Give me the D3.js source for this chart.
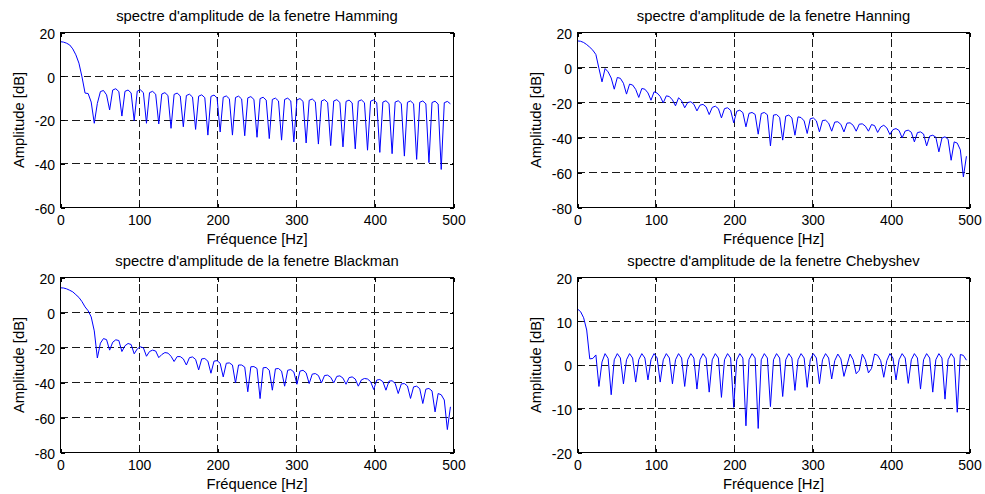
<!DOCTYPE html>
<html><head><meta charset="utf-8">
<script src="https://cdn.jsdelivr.net/npm/d3@7"></script>
<style>
html,body{margin:0;padding:0;background:#fff;}
svg{display:block;}
</style></head><body>
<svg id="chart" width="985" height="494"></svg>
<script>
// ---- data (amplitude in dB, FFT bins spaced 1000/256 Hz, starting at 0 Hz) ----
const binStepHz = 1000 / 256;

const hamming = [15.8, 15.6, 15.1, 14.3, 12.5, 9.8, 6.0, -0.3, -7.7, -7.9,
 -11.8, -21.5, -12.4, -7.0, -6.5, -8.5, -15.4, -6.3, -5.7, -7.0,
 -18.2, -6.9, -6.3, -7.6, -20.3, -6.8, -6.2, -7.5, -21.5, -7.5,
 -6.9, -8.2, -21.8, -8.1, -7.5, -8.8, -23.8, -8.3, -7.7, -9.0,
 -23.1, -8.8, -8.2, -9.5, -24.3, -9.1, -8.5, -9.8, -26.9, -9.2,
 -8.6, -9.9, -25.5, -9.6, -9.0, -10.3, -26.9, -9.7, -9.1, -10.4,
 -27.2, -9.9, -9.3, -10.6, -27.9, -10.2, -9.6, -10.9, -28.5, -10.6,
 -10.0, -11.3, -29.2, -10.6, -10.0, -11.3, -30.0, -10.8, -10.2, -11.5,
 -30.5, -11.0, -10.4, -11.7, -31.0, -11.3, -10.7, -12.0, -31.7, -11.3,
 -10.7, -12.0, -32.3, -11.5, -10.9, -12.2, -33.2, -11.4, -10.8, -12.1,
 -33.8, -11.4, -10.8, -12.1, -34.8, -11.8, -11.2, -12.5, -35.4, -11.8,
 -11.2, -12.5, -36.5, -11.9, -11.3, -12.6, -38.0, -11.9, -11.3, -12.6,
 -39.5, -12.0, -11.4, -12.7, -42.6, -12.1, -11.5, -12.6];

const hanning = [15.2, 15.0, 14.3, 13.1, 11.6, 9.9, 7.4, -0.5, -8.2, -0.6,
 -2.5, -6.0, -12.4, -5.7, -6.2, -9.0, -15.2, -9.5, -10.0, -12.5,
 -17.1, -12.0, -12.4, -14.5, -18.7, -13.9, -14.6, -16.5, -20.2, -16.2,
 -16.6, -18.5, -21.9, -17.3, -19.0, -23.0, -20.0, -19.6, -21.0, -24.8,
 -21.5, -21.1, -22.5, -26.9, -22.8, -22.1, -23.5, -28.8, -23.5, -23.0,
 -24.5, -31.6, -25.0, -24.4, -25.8, -33.9, -26.2, -25.7, -26.8, -38.1,
 -26.3, -25.7, -27.0, -44.8, -27.2, -26.9, -28.5, -41.5, -27.8, -27.2,
 -28.8, -38.7, -28.2, -28.6, -30.5, -37.7, -29.3, -28.8, -30.5, -36.8,
 -30.3, -30.1, -31.8, -36.4, -31.2, -31.0, -32.5, -36.8, -31.8, -31.6,
 -33.0, -36.4, -32.4, -32.2, -33.5, -36.4, -32.6, -33.2, -37.1, -34.0,
 -33.0, -34.5, -38.3, -35.5, -34.9, -36.0, -40.2, -36.3, -35.8, -37.0,
 -42.5, -37.2, -36.8, -38.0, -44.8, -39.2, -38.7, -39.8, -48.2, -40.3,
 -39.6, -41.0, -53.0, -42.5, -43.2, -47.0, -62.5, -50.7];

const blackman = [14.1, 14.0, 13.5, 12.7, 11.8, 10.2, 8.6, 6.2, 3.2, 1.0,
 -2.5, -10.5, -26.0, -17.5, -14.9, -15.5, -21.5, -17.0, -15.6, -16.0,
 -22.3, -19.0, -17.7, -18.3, -23.6, -20.8, -19.6, -20.2, -25.0, -22.3,
 -21.5, -22.0, -25.8, -24.0, -22.9, -23.2, -25.0, -28.0, -25.2, -25.2,
 -26.5, -30.0, -25.8, -25.4, -26.8, -32.8, -26.5, -26.3, -27.8, -34.7,
 -27.8, -27.5, -29.0, -36.8, -29.0, -28.8, -30.0, -40.3, -30.0, -30.0,
 -31.2, -45.3, -31.0, -30.9, -32.0, -49.2, -31.6, -31.4, -33.0, -44.4,
 -32.2, -32.0, -33.5, -42.1, -33.0, -32.6, -34.0, -41.0, -33.5, -33.0,
 -34.5, -40.6, -35.2, -34.9, -36.0, -40.2, -36.0, -35.8, -37.0, -40.2,
 -36.5, -36.2, -37.5, -41.0, -37.2, -36.8, -38.0, -42.1, -38.5, -37.7,
 -38.0, -39.5, -44.0, -38.6, -38.3, -39.5, -44.4, -39.2, -39.0, -40.5,
 -46.3, -40.8, -40.6, -42.0, -49.1, -42.5, -42.1, -43.5, -52.0, -43.8,
 -43.4, -44.8, -56.8, -46.3, -47.0, -50.0, -66.9, -53.9];

const chebyshev = [12.8, 12.2, 10.8, 8.0, 1.4, 1.5, 2.3, -4.9, 0.7, 2.6,
 1.5, -6.8, 1.2, 2.6, 1.6, -4.3, 1.2, 2.6, 1.6, -3.9,
 1.2, 2.6, 1.6, -3.4, 1.2, 2.6, 1.6, -3.9, 1.2, 2.6,
 1.6, -4.3, 1.2, 2.6, 1.6, -4.9, 1.2, 2.6, 1.6, -5.5,
 1.2, 2.6, 1.6, -6.2, 1.2, 2.6, 1.6, -7.4, 1.2, 2.6,
 1.6, -9.7, 1.2, 2.6, 1.6, -13.9, 1.2, 2.6, 1.6, -14.5,
 1.2, 2.6, 1.6, -9.5, 1.2, 2.6, 1.6, -7.2, 1.2, 2.6,
 1.6, -5.8, 1.2, 2.6, 1.6, -5.1, 1.2, 2.6, 1.6, -4.3,
 1.2, 2.6, 1.6, -3.2, 1.0, 2.5, 1.4, -2.6, 0.0, 2.5,
 1.2, -2.0, -1.2, 2.5, 1.2, -1.8, -0.8, 2.5, 2.2, 1.0,
 -2.8, 1.0, 2.6, 1.6, -3.4, 1.2, 2.6, 1.6, -4.2, 1.2,
 2.6, 1.6, -5.5, 1.2, 2.6, 1.6, -6.2, 1.2, 2.6, 1.6,
 -7.8, 1.2, 2.6, 1.6, -10.8, 2.4, 2.2, 1.1];

const windowNames = ["Hamming", "Hanning", "Blackman", "Chebyshev"];
const titlePrefix = "spectre d'amplitude de la fenetre ";
const xLabel = "Fréquence [Hz]";
const yLabel = "Amplitude [dB]";
const xTicks = [0, 100, 200, 300, 400, 500];
const yTicksHamming = [-60, -40, -20, 0, 20];
const yTicksHanning = [-80, -60, -40, -20, 0, 20];
const yTicksBlackman = [-80, -60, -40, -20, 0, 20];
const yTicksChebyshev = [-20, -10, 0, 10, 20];

// ---- layout ----
const FONT = '"Liberation Sans", Arial, Helvetica, sans-serif';
const panels = [
  {name: windowNames[0], values: hamming,   yTicks: yTicksHamming,   l: 60.5,  r: 453.5, t: 32.5,  b: 207.5},
  {name: windowNames[1], values: hanning,   yTicks: yTicksHanning,   l: 577.5, r: 969.5, t: 32.5,  b: 207.5},
  {name: windowNames[2], values: blackman,  yTicks: yTicksBlackman,  l: 60.5,  r: 453.5, t: 277.5, b: 452.5},
  {name: windowNames[3], values: chebyshev, yTicks: yTicksChebyshev, l: 577.5, r: 969.5, t: 277.5, b: 452.5}
];

const svg = d3.select("#chart");
svg.append("rect").attr("width", 985).attr("height", 494).attr("fill", "#fff");

const crisp = v => Math.floor(v) + 0.5;

panels.forEach(p => {
  const x = d3.scaleLinear().domain([xTicks[0], xTicks[xTicks.length - 1]]).range([p.l, p.r]);
  const y = d3.scaleLinear().domain(d3.extent(p.yTicks)).range([p.b, p.t]);
  const g = svg.append("g");

  // grid lines
  const grid = g.append("g").attr("stroke", "#1a1a1a").attr("stroke-width", 1)
    .attr("stroke-dasharray", "7.5,4").attr("shape-rendering", "crispEdges");
  grid.selectAll("line.v").data(xTicks.slice(1, -1)).enter().append("line")
    .attr("x1", d => crisp(x(d))).attr("x2", d => crisp(x(d)))
    .attr("y1", p.b).attr("y2", p.t);
  grid.selectAll("line.h").data(p.yTicks.slice(1, -1)).enter().append("line")
    .attr("y1", d => crisp(y(d))).attr("y2", d => crisp(y(d)))
    .attr("x1", p.l).attr("x2", p.r);

  // axes (labels via d3 axes, inward ticks)
  const styleAxis = sel => {
    sel.select(".domain").remove();
    sel.selectAll(".tick line").attr("stroke", "#000").attr("shape-rendering", "crispEdges");
    sel.selectAll(".tick text").attr("font-family", FONT).attr("font-size", 14).attr("fill", "#000");
    sel.attr("font-family", null).attr("font-size", null);
  };
  g.append("g").attr("transform", `translate(0,${p.b})`)
    .call(d3.axisBottom(x).tickValues(xTicks).tickFormat(d3.format("d")).tickSizeInner(-4).tickSizeOuter(0).tickPadding(7.5))
    .call(styleAxis);
  g.append("g").attr("transform", `translate(${p.l},0)`)
    .call(d3.axisLeft(y).tickValues(p.yTicks).tickFormat(d => String(d)).tickSizeInner(-4).tickSizeOuter(0).tickPadding(5.5))
    .call(styleAxis)
    .selectAll(".tick text").attr("dy", "0.42em");
  g.append("g").attr("transform", `translate(0,${p.t})`)
    .call(d3.axisTop(x).tickValues(xTicks).tickFormat("").tickSizeInner(-4).tickSizeOuter(0))
    .call(styleAxis);
  g.append("g").attr("transform", `translate(${p.r},0)`)
    .call(d3.axisRight(y).tickValues(p.yTicks).tickFormat("").tickSizeInner(-4).tickSizeOuter(0))
    .call(styleAxis);

  // data line
  const line = d3.line().x((d, i) => x(i * binStepHz)).y(d => y(d));
  g.append("path").datum(p.values)
    .attr("d", line).attr("fill", "none").attr("stroke", "#0000ff").attr("stroke-width", 1);

  // box
  g.append("rect").attr("x", p.l).attr("y", p.t).attr("width", p.r - p.l).attr("height", p.b - p.t)
    .attr("fill", "none").attr("stroke", "#000").attr("stroke-width", 1).attr("shape-rendering", "crispEdges");

  // texts
  const cx = (p.l + p.r) / 2;
  g.append("text").attr("x", cx).attr("y", p.t - 11.5).attr("text-anchor", "middle")
    .attr("font-family", FONT).attr("font-size", 14.8).attr("fill", "#000")
    .text(titlePrefix + p.name);
  g.append("text").attr("x", cx).attr("y", p.b + 36.5).attr("text-anchor", "middle")
    .attr("font-family", FONT).attr("font-size", 14.8).attr("fill", "#000")
    .text(xLabel);
  const cy = (p.t + p.b) / 2;
  g.append("text").attr("transform", `translate(${p.l - 37},${cy}) rotate(-90)`)
    .attr("text-anchor", "middle")
    .attr("font-family", FONT).attr("font-size", 14.8).attr("fill", "#000")
    .text(yLabel);
});
</script>
</body></html>
